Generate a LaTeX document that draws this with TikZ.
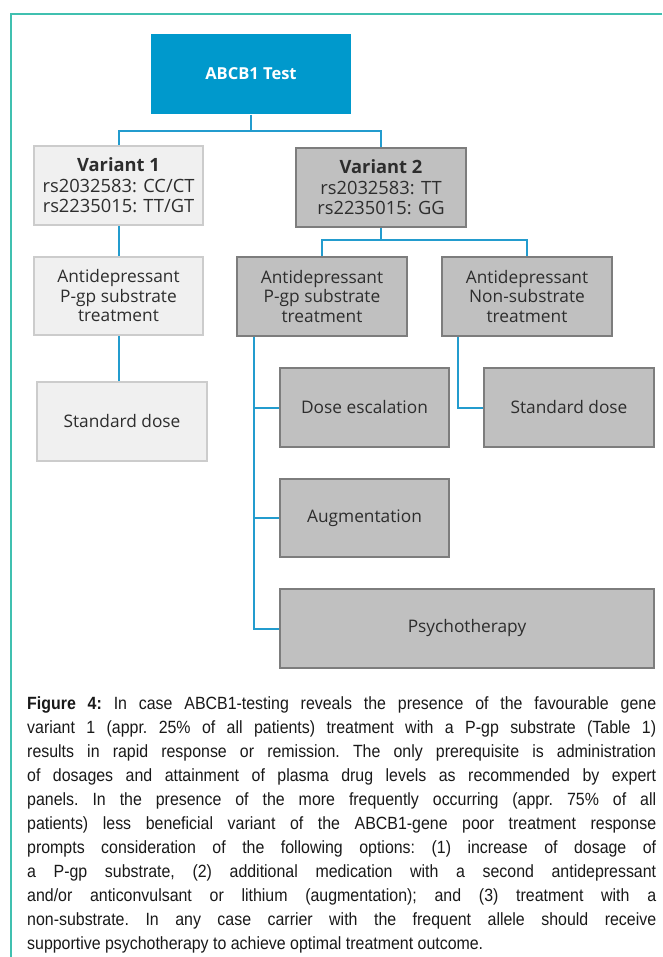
\documentclass[tikz,border=0pt]{standalone}
\usepackage{fontspec}
\setmainfont{Open Sans}
\newfontfamily\boxfont{Open Sans}
\newfontfamily\capfont[FakeStretch=0.9]{Liberation Sans}
\definecolor{frameteal}{RGB}{64,192,176}
\definecolor{testblue}{RGB}{0,153,204}
\definecolor{connblue}{RGB}{35,156,206}
\definecolor{darkfill}{RGB}{192,192,192}
\definecolor{darkline}{RGB}{125,125,125}
\definecolor{lightfill}{RGB}{240,240,240}
\definecolor{lightline}{RGB}{204,204,204}
\definecolor{boxtext}{RGB}{45,45,45}
\definecolor{captext}{RGB}{25,25,25}
\begin{document}
\begin{tikzpicture}[x=1pt,y=-1pt,
  basebox/.style={line width=1.6pt, minimum height=79pt, inner sep=0pt, align=center,
    text=boxtext, font=\boxfont\fontsize{17.3}{19.5}\selectfont},
  darkbox/.style={basebox, draw=darkline, fill=darkfill},
  lightbox/.style={basebox, draw=lightline, fill=lightfill},
  varfont/.style={font=\boxfont\fontsize{18.3}{20.5}\selectfont},
  conn/.style={draw=connblue, line width=2pt}]
\useasboundingbox (0,0) rectangle (662,957);
\fill[white] (0,0) rectangle (662,957);
\draw[frameteal, line width=1.5pt] (662,14) -- (11,14) -- (11,957);

\node[basebox, fill=testblue, minimum width=200pt, minimum height=80pt, text=white,
  font=\boxfont\bfseries\fontsize{16.5}{19}\selectfont] (test) at (251,74) {ABCB1 Test};
\node[lightbox, varfont, minimum width=169pt] (v1) at (118.5,185.5)
  {\textbf{Variant 1}\\rs2032583: CC/CT\\rs2235015: TT/GT};
\node[darkbox, varfont, minimum width=170pt] (v2) at (381,187.5)
  {\textbf{Variant 2}\\rs2032583: TT\\rs2235015: GG};
\node[lightbox, minimum width=169pt, minimum height=78pt] (a1) at (118.5,296)
  {Antidepressant\\P-gp substrate\\treatment};
\node[darkbox, minimum width=170pt] (a2) at (322,296.5)
  {Antidepressant\\P-gp substrate\\treatment};
\node[darkbox, minimum width=170pt] (a3) at (527,296.5)
  {Antidepressant\\Non-substrate\\treatment};
\node[lightbox, minimum width=170pt] (s1) at (122,421.5) {Standard dose};
\node[darkbox, minimum width=169pt] (de) at (364.5,407.5) {Dose escalation};
\node[darkbox, minimum width=170pt] (s2) at (569,407.5) {Standard dose};
\node[darkbox, minimum width=169pt, minimum height=78pt] (au) at (364.5,518) {Augmentation};
\node[darkbox, minimum width=374pt] (ps) at (467,628.5) {Psychotherapy};

\coordinate (j1) at (251,131);
\coordinate (j2) at (381,240);
\draw[conn] (test.south) -- (j1) -| (v1.north);
\draw[conn] (j1) -| (v2.north);
\draw[conn] (v1.south) -- (a1.north);
\draw[conn] (v2.south) -- (j2) -| (a2.north);
\draw[conn] (j2) -| (a3.north);
\draw[conn] (a1.south) -- (a1.south |- s1.north);
\coordinate (b2) at ([xshift=18pt]a2.south west);
\draw[conn] (b2) |- (de.west);
\draw[conn] (b2) |- (au.west);
\draw[conn] (b2) |- (ps.west);
\coordinate (b3) at ([xshift=17pt]a3.south west);
\draw[conn] (b3) |- (s2.west);

\node[anchor=north west, inner sep=0pt, align=left, text=captext,
  font=\capfont\fontsize{17.7}{24}\selectfont\frenchspacing] (cap) at (27,692.7)
{\strut\makebox[629pt][s]{\textbf{Figure 4:} In case ABCB1-testing reveals the presence of the favourable gene}\\
\makebox[629pt][s]{variant 1 (appr. 25\% of all patients) treatment with a P-gp substrate (Table 1)}\\
\makebox[629pt][s]{results in rapid response or remission. The only prerequisite is administration}\\
\makebox[629pt][s]{of dosages and attainment of plasma drug levels as recommended by expert}\\
\makebox[629pt][s]{panels. In the presence of the more frequently occurring (appr. 75\% of all}\\
\makebox[629pt][s]{patients) less beneficial variant of the ABCB1-gene poor treatment response}\\
\makebox[629pt][s]{prompts consideration of the following options: (1) increase of dosage of}\\
\makebox[629pt][s]{a P-gp substrate, (2) additional medication with a second antidepressant}\\
\makebox[629pt][s]{and/or anticonvulsant or lithium (augmentation); and (3) treatment with a}\\
\makebox[629pt][s]{non-substrate. In any case carrier with the frequent allele should receive}\\
supportive psychotherapy to achieve optimal treatment outcome.};
\end{tikzpicture}
\end{document}
